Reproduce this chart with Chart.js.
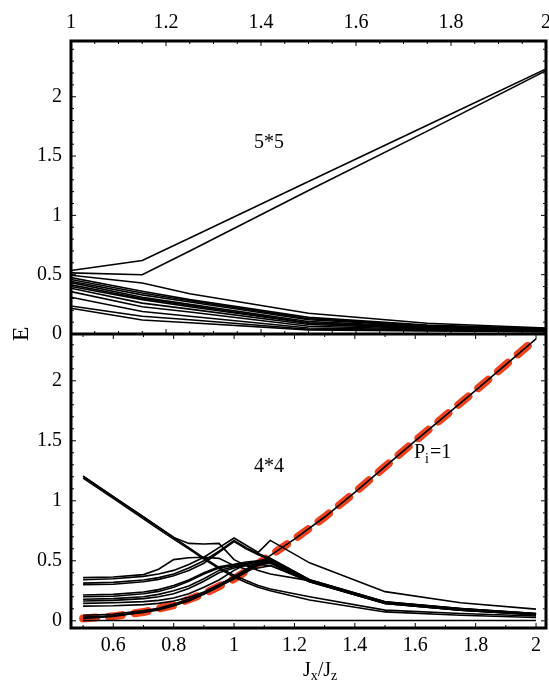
<!DOCTYPE html>
<html>
<head>
<meta charset="utf-8">
<script src="https://cdn.jsdelivr.net/npm/chart.js@4.4.0/dist/chart.umd.min.js"></script>
<style>
  html, body { margin: 0; padding: 0; background: #fff; }
  #wrap { width: 549px; height: 681px; }
</style>
</head>
<body>
<div id="wrap"><canvas id="c"></canvas></div>
<script>
// ---- data ----
// top panel (5*5), x = Jx/Jz
const topX = [1, 1.15, 1.25, 1.5, 1.75, 2];
const topRise1 = [0.535, 0.62, 0.81, 1.285, 1.76, 2.235];
const topRise2 = [0.515, 0.50, 0.70, 1.21, 1.71, 2.22];
const topLow = [
  [0.495, 0.43, 0.34, 0.175, 0.09, 0.05],
  [0.475, 0.36, 0.29, 0.14, 0.075, 0.045],
  [0.46, 0.345, 0.28, 0.13, 0.07, 0.04],
  [0.445, 0.33, 0.27, 0.12, 0.065, 0.04],
  [0.433, 0.31, 0.25, 0.105, 0.06, 0.035],
  [0.414, 0.30, 0.24, 0.095, 0.055, 0.035],
  [0.40, 0.29, 0.23, 0.09, 0.05, 0.03],
  [0.386, 0.26, 0.21, 0.08, 0.045, 0.03],
  [0.357, 0.23, 0.185, 0.065, 0.04, 0.025],
  [0.31, 0.19, 0.15, 0.05, 0.035, 0.025],
  [0.236, 0.15, 0.12, 0.04, 0.03, 0.02],
  [0.217, 0.118, 0.095, 0.035, 0.025, 0.02]
];

// bottom panel (4*4)
const botX = [0.5, 0.6, 0.7, 0.75, 0.8, 0.85, 0.9, 0.95, 1.0, 1.04, 1.08, 1.12, 1.25, 1.5, 1.75, 2.0];
const botLines = [
  [1.205, 1.035, 0.865, 0.78, 0.695, 0.61, 0.525, 0.445, 0.38, 0.335, 0.295, 0.265, 0.200, 0.089, 0.061, 0.040],
  [1.19, 1.02, 0.85, 0.765, 0.68, 0.60, 0.515, 0.435, 0.365, 0.32, 0.28, 0.25, 0.173, 0.074, 0.046, 0.027],
  [1.205, 1.035, 0.865, 0.78, 0.695, 0.645, 0.64, 0.645, 0.51, 0.46, 0.42, 0.39, 0.335, 0.152, 0.097, 0.057],
  [0.36, 0.365, 0.385, 0.43, 0.51, 0.525, 0.53, 0.52, 0.46, 0.43, 0.44, 0.46, 0.335, 0.152, 0.097, 0.057],
  [0.342, 0.35, 0.37, 0.39, 0.42, 0.47, 0.53, 0.61, 0.69, 0.63, 0.57, 0.67, 0.483, 0.243, 0.150, 0.097],
  [0.314, 0.32, 0.34, 0.36, 0.39, 0.44, 0.50, 0.58, 0.67, 0.61, 0.56, 0.52, 0.342, 0.159, 0.103, 0.060],
  [0.30, 0.305, 0.325, 0.345, 0.375, 0.42, 0.48, 0.57, 0.66, 0.60, 0.55, 0.51, 0.33, 0.150, 0.095, 0.055],
  [0.215, 0.22, 0.24, 0.26, 0.295, 0.34, 0.40, 0.45, 0.47, 0.49, 0.50, 0.49, 0.33, 0.148, 0.092, 0.052],
  [0.20, 0.205, 0.225, 0.245, 0.28, 0.33, 0.39, 0.44, 0.46, 0.48, 0.495, 0.485, 0.327, 0.145, 0.089, 0.050],
  [0.18, 0.185, 0.20, 0.22, 0.25, 0.29, 0.35, 0.42, 0.45, 0.47, 0.49, 0.48, 0.325, 0.145, 0.089, 0.050],
  [0.165, 0.17, 0.185, 0.20, 0.225, 0.27, 0.33, 0.40, 0.44, 0.46, 0.47, 0.46, 0.325, 0.145, 0.089, 0.050],
  [0.145, 0.15, 0.16, 0.17, 0.19, 0.225, 0.28, 0.34, 0.42, 0.47, 0.50, 0.52, 0.342, 0.159, 0.103, 0.060],
  [0.122, 0.125, 0.135, 0.145, 0.165, 0.195, 0.24, 0.30, 0.37, 0.43, 0.49, 0.51, 0.34, 0.157, 0.10, 0.058],
  [0.046, 0.055, 0.085, 0.105, 0.14, 0.18, 0.235, 0.30, 0.365, 0.42, 0.47, 0.50, 0.335, 0.152, 0.097, 0.057],
  [0.032, 0.042, 0.07, 0.09, 0.125, 0.165, 0.22, 0.285, 0.35, 0.405, 0.46, 0.49, 0.33, 0.15, 0.095, 0.055]
];
const flatX = [0.5, 2.0];
const flatE = [0.003, 0.003];
// P_i = 1 sector (black line + red dashes)
const piX = [0.5, 0.6, 0.7, 0.8, 0.9, 1.0, 1.1, 1.2, 1.3, 1.4, 1.5, 1.6, 1.7, 1.8, 1.9, 2.0];
const piE = [0.02, 0.037, 0.073, 0.13, 0.225, 0.35, 0.51, 0.68, 0.865, 1.07, 1.285, 1.50, 1.71, 1.92, 2.135, 2.35];

const topXTicks = [1, 1.2, 1.4, 1.6, 1.8, 2];
const botXTicks = [0.6, 0.8, 1, 1.2, 1.4, 1.6, 1.8, 2];
const yTicks = [0, 0.5, 1, 1.5, 2];

// ---- chart ----
const serif = "'Liberation Serif', 'DejaVu Serif', serif";
const tickFont = { family: serif, size: 20 };

function pts(xs, ys) {
  return ys.map((y, i) => ({ x: xs[i], y: y }));
}
function blackLine(xs, ys, xAxis, yAxis) {
  return {
    data: pts(xs, ys), xAxisID: xAxis, yAxisID: yAxis,
    borderColor: '#000', borderWidth: 1.6, pointRadius: 0, fill: false, order: 0
  };
}

const datasets = [];
datasets.push(blackLine(topX, topRise1, 'xTop', 'yTop'));
datasets.push(blackLine(topX, topRise2, 'xTop', 'yTop'));
topLow.forEach(l => datasets.push(blackLine(topX, l, 'xTop', 'yTop')));
botLines.forEach(l => datasets.push(blackLine(botX, l, 'xBot', 'yBot')));
datasets.push(blackLine(flatX, flatE, 'xBot', 'yBot'));
datasets.push(blackLine(piX, piE, 'xBot', 'yBot'));
datasets.push({
  data: pts(piX, piE), xAxisID: 'xBot', yAxisID: 'yBot',
  borderColor: '#f0401c', borderWidth: 8, borderDash: [13, 13], borderCapStyle: 'round',
  pointRadius: 0, fill: false, order: 5
});

function setTicks(arr) {
  return s => { s.ticks = arr.map(v => ({ value: v })); };
}
function noPad(s) {
  s.paddingLeft = 0; s.paddingRight = 0; s.paddingTop = 0; s.paddingBottom = 0;
}
const tickOpts = { font: tickFont, color: '#000', maxRotation: 0, autoSkip: false, callback: v => String(v) };
const noGrid = { display: false, drawTicks: false };

// inner tick marks, frame and labels
const decor = {
  id: 'decor',
  afterDatasetsDraw(chart) {
    const ctx = chart.ctx;
    const a = chart.chartArea;
    const s = chart.scales;
    const mid = s.yTop.bottom;
    ctx.save();
    ctx.strokeStyle = '#000';
    ctx.lineWidth = 1;
    function hTicks(scale, lo, hi, step, major, y, dir) {
      for (let v = lo; v <= hi + 1e-9; v += step) {
        const vv = Math.round(v * 100) / 100;
        const px = scale.getPixelForValue(vv);
        if (px < a.left + 1 || px > a.right - 1) continue;
        const isMajor = major.some(m => Math.abs(m - vv) < 1e-6);
        const len = isMajor ? 5 : 3;
        ctx.beginPath(); ctx.moveTo(px, y); ctx.lineTo(px, y + dir * len); ctx.stroke();
      }
    }
    function vTicks(scale, lo, hi, major) {
      for (let v = lo; v <= hi + 1e-9; v += 0.1) {
        const vv = Math.round(v * 10) / 10;
        const py = scale.getPixelForValue(vv);
        if (py < scale.top + 1 || py > scale.bottom - 1) continue;
        const isMajor = major.some(m => Math.abs(m - vv) < 1e-6);
        const len = isMajor ? 5 : 3;
        ctx.beginPath(); ctx.moveTo(a.left, py); ctx.lineTo(a.left + len, py); ctx.stroke();
        ctx.beginPath(); ctx.moveTo(a.right, py); ctx.lineTo(a.right - len, py); ctx.stroke();
      }
    }
    hTicks(s.xTop, 1, 2, 0.05, topXTicks, a.top, 1);
    hTicks(s.xTop, 1, 2, 0.05, topXTicks, mid, -1);
    hTicks(s.xBot, 0.5, 2, 0.1, botXTicks, mid, 1);
    hTicks(s.xBot, 0.5, 2, 0.1, botXTicks, a.bottom, -1);
    vTicks(s.yTop, 0, 2.4, yTicks);
    vTicks(s.yBot, 0, 2.3, yTicks);

    ctx.lineWidth = 3;
    ctx.strokeRect(a.left, a.top, a.right - a.left, a.bottom - a.top);
    ctx.beginPath(); ctx.moveTo(a.left, mid); ctx.lineTo(a.right, mid); ctx.stroke();

    ctx.fillStyle = '#000';
    ctx.textAlign = 'left';
    ctx.textBaseline = 'alphabetic';
    ctx.font = '20px ' + serif;
    ctx.fillText('5*5', 254, 148);
    ctx.fillText('4*4', 254, 472);
    // P_i=1
    const px0 = 414, py0 = 458;
    ctx.fillText('P', px0, py0);
    const w = ctx.measureText('P').width;
    ctx.font = '14px ' + serif;
    ctx.fillText('i', px0 + w, py0 + 5);
    const wi = ctx.measureText('i').width;
    ctx.font = '20px ' + serif;
    ctx.fillText('=1', px0 + w + wi + 1, py0);
    // Jx/Jz
    let x = 303;
    const yb = 676;
    const parts = [['J', 20, 0], ['x', 14, 4], ['/', 20, 0], ['J', 20, 0], ['z', 14, 4]];
    parts.forEach(p => {
      ctx.font = p[1] + 'px ' + serif;
      ctx.fillText(p[0], x, yb + p[2]);
      x += ctx.measureText(p[0]).width;
    });
    // E
    ctx.save();
    ctx.translate(22, mid);
    ctx.rotate(-Math.PI / 2);
    ctx.textAlign = 'center';
    ctx.textBaseline = 'middle';
    ctx.font = '24px ' + serif;
    ctx.fillText('E', 0, 0);
    ctx.restore();
    ctx.restore();
  }
};

new Chart(document.getElementById('c'), {
  type: 'line',
  data: { datasets: datasets },
  options: {
    responsive: true,
    maintainAspectRatio: false,
    animation: false,
    layout: { padding: { left: 0, right: 3, top: 0, bottom: 0 } },
    plugins: { legend: { display: false }, tooltip: { enabled: false } },
    elements: { line: { tension: 0 } },
    scales: {
      xTop: {
        type: 'linear', position: 'top', min: 1, max: 2,
        afterBuildTicks: setTicks(topXTicks),
        grid: noGrid, border: { display: false },
        ticks: Object.assign({ padding: 6 }, tickOpts),
        afterFit: s => { s.height = 41; noPad(s); }
      },
      xBot: {
        type: 'linear', position: 'bottom', min: 0.46, max: 2.033,
        afterBuildTicks: setTicks(botXTicks),
        grid: noGrid, border: { display: false },
        ticks: Object.assign({ padding: 6 }, tickOpts),
        afterFit: s => { s.height = 53; noPad(s); }
      },
      yBot: {
        type: 'linear', position: 'left', stack: 'e', stackWeight: 294, weight: 0,
        min: -0.06, max: 2.39,
        afterBuildTicks: setTicks(yTicks),
        grid: noGrid, border: { display: false },
        ticks: Object.assign({ padding: 9 }, tickOpts),
        afterFit: s => { s.width = 71; noPad(s); }
      },
      yTop: {
        type: 'linear', position: 'left', stack: 'e', stackWeight: 293, weight: 1,
        min: 0, max: 2.47,
        afterBuildTicks: setTicks(yTicks),
        grid: noGrid, border: { display: false },
        ticks: Object.assign({ padding: 9 }, tickOpts),
        afterFit: s => { s.width = 71; noPad(s); }
      }
    }
  },
  plugins: [decor]
});
</script>
</body>
</html>
